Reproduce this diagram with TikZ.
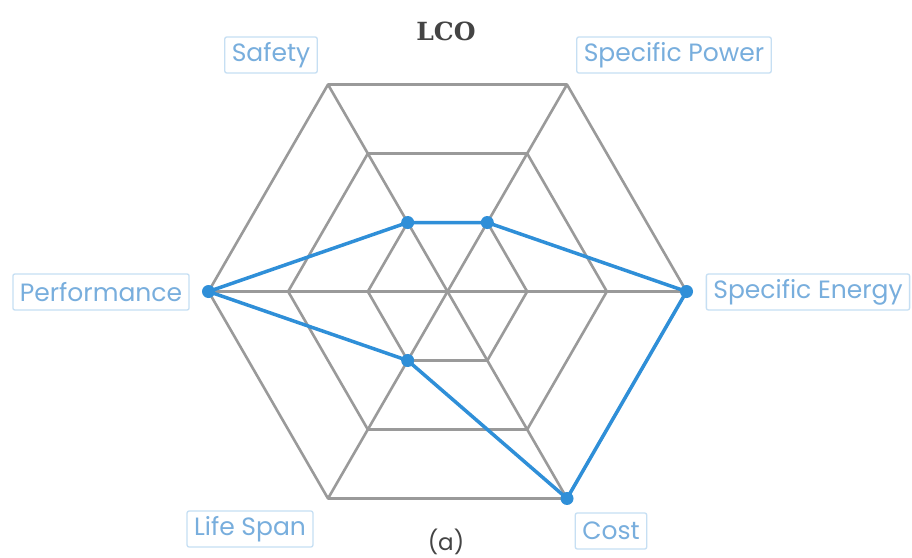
\documentclass[tikz,border=0pt]{standalone}
\usepackage{fontspec}
\usetikzlibrary{calc}
\setmainfont{Poppins}
\newfontfamily\titlefont{DejaVu Serif}
\definecolor{gridgray}{HTML}{9A9A9A}
\definecolor{datablue}{HTML}{2F8FD8}
\definecolor{labelblue}{HTML}{78AEDD}
\definecolor{boxblue}{HTML}{C6DFF3}
\definecolor{titlegray}{HTML}{444444}
\tikzset{
  grid/.style={draw=gridgray, line width=2.6pt, line join=round},
  series/.style={draw=datablue, line width=3.5pt, line join=round},
  dot/.style={circle, fill=datablue, inner sep=0pt, minimum size=13pt},
  axislabel/.style={draw=boxblue, line width=1.3pt, rounded corners=2pt,
    text=labelblue, font=\fontsize{25}{28}\selectfont, inner xsep=7pt,
    inner ysep=0pt, minimum height=36pt, fill=white},
}
\begin{document}
\begin{tikzpicture}[x=1pt, y=-1pt]
\useasboundingbox (0,0) rectangle (912,557);
\fill[white] (0,0) rectangle (912,557);
% centre and radius of the radar grid
\coordinate (O) at (447.5,291.5);
\def\R{239}
% axis vertices: angles 0,60,...,300 (y axis points down)
\foreach \n/\a in {E/0, C/60, L/120, P/180, S/240, W/300}{
  \coordinate (\n3) at ($(O)+({\R*cos(\a)},{\R*sin(\a)})$);
  \coordinate (\n2) at ($(O)!0.6667!(\n3)$);
  \coordinate (\n1) at ($(O)!0.3333!(\n3)$);
}
% rings
\foreach \k in {1,2,3}{
  \draw[grid] (E\k) -- (C\k) -- (L\k) -- (P\k) -- (S\k) -- (W\k) -- cycle;
}
% spokes
\draw[grid] (E3) -- (P3);
\draw[grid] (C3) -- (S3);
\draw[grid] (L3) -- (W3);
% data series
\draw[series] (S1) -- (W1) -- (E3) -- (C3) -- (L1) -- (P3) -- cycle;
\foreach \p in {S1, W1, E3, C3, L1, P3}{
  \node[dot] (d\p) at (\p) {};
}
% axis labels
\node[axislabel] (lsafety) at (271,55) {Safety};
\node[axislabel] (lpower) at (674,55) {Specific Power};
\node[axislabel] (lperf) at (101,292) {Performance};
\node[axislabel] (lenergy) at (808,292) {Specific Energy};
\node[axislabel] (llife) at (250,529) {Life Span};
\node[axislabel] (lcost) at (611,531) {Cost};
% title and caption
\node[text=titlegray, font=\titlefont\bfseries\fontsize{25}{28}\selectfont] (title) at (446,31) {LCO};
\node[text=titlegray, font=\fontsize{23}{26}\selectfont] (cap) at (446,542) {(a)};
\end{tikzpicture}
\end{document}
